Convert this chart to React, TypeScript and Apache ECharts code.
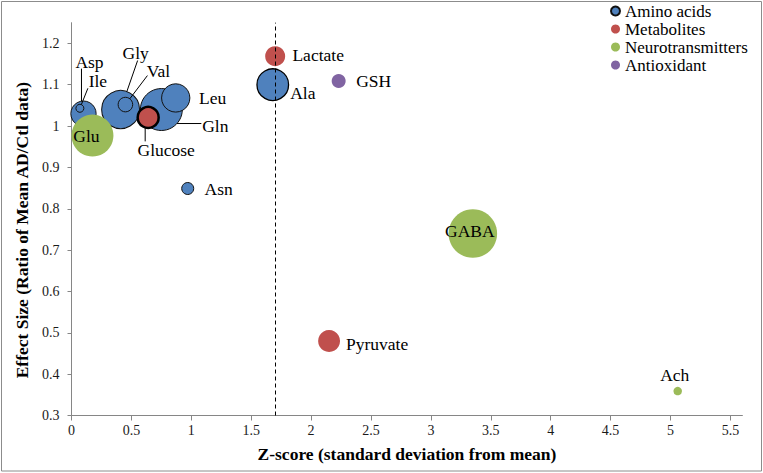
import React, { useEffect, useRef } from 'react';
import * as echarts from 'echarts';

// ---------- data ----------
const seriesNames = ['Amino acids', 'Metabolites', 'Neurotransmitters', 'Antioxidant'];

const aminoNames = ['Asp', 'Ile', 'Gly', 'Val', 'Leu', 'Gln', 'Asn', 'Ala'];
const aminoZ = [0.1, 0.07, 0.41, 0.45, 0.87, 0.75, 0.97, 1.68];
const aminoEffect = [1.03, 1.043, 1.04, 1.052, 1.068, 1.04, 0.849, 1.1];
const aminoSize = [1.6, 0.16, 3.6, 0.53, 2.0, 4.4, 0.36, 2.5];

const metaNames = ['Lactate', 'Glucose', 'Pyruvate'];
const metaZ = [1.7, 0.64, 2.15];
const metaEffect = [1.169, 1.021, 0.48];
const metaSize = [1.0, 1.1, 1.2];

const neuroNames = ['Glu', 'GABA', 'Ach'];
const neuroZ = [0.175, 3.35, 5.06];
const neuroEffect = [0.977, 0.74, 0.359];
const neuroSize = [4.4, 5.9, 0.18];

const antiNames = ['GSH'];
const antiZ = [2.23];
const antiEffect = [1.109];
const antiSize = [0.49];

const zThreshold = 1.7;

const xMin = 0;
const xMax = 5.6;
const xStep = 0.5;
const yMin = 0.3;
const yMax = 1.25;
const yStep = 0.1;

// ---------- styling ----------
const FONT = "'Liberation Serif', 'Times New Roman', serif";
const colors = ['#4f81bd', '#c0504d', '#9bbb59', '#8064a2'];

type Lead = { ax: number; ay: number; mode: 'nearest' | 'vertical' | 'horizontal' };
type Place = { dx: number; dy: number; lead?: Lead };
const labelPlacement: Record<string, Place> = {
  Asp: { dx: 6, dy: -52, lead: { ax: -8, ay: 7, mode: 'vertical' } },
  Ile: { dx: 18, dy: -27, lead: { ax: -10, ay: 7, mode: 'nearest' } },
  Gly: { dx: 15, dy: -57, lead: { ax: 2, ay: 8, mode: 'nearest' } },
  Val: { dx: 33, dy: -34, lead: { ax: -11, ay: 5, mode: 'nearest' } },
  Leu: { dx: 37, dy: 0 },
  Gln: { dx: 54, dy: 16, lead: { ax: -14, ay: -2, mode: 'horizontal' } },
  Asn: { dx: 31, dy: 0 },
  Ala: { dx: 30, dy: 8 },
  Lactate: { dx: 43, dy: -1 },
  Glucose: { dx: 18, dy: 33, lead: { ax: -21, ay: -9, mode: 'vertical' } },
  Pyruvate: { dx: 48, dy: 3 },
  Glu: { dx: -6, dy: 0 },
  GABA: { dx: -3, dy: -3 },
  Ach: { dx: -3, dy: -16 },
  GSH: { dx: 35, dy: 0 },
};

const radiusOf = (size: number) => 10 * Math.sqrt(size);

function buildData(names: string[], xs: number[], ys: number[], sizes: number[]) {
  const items = names.map((n, i) => {
    const p = labelPlacement[n] || { dx: 0, dy: 0 };
    const item: any = {
      name: n,
      value: [xs[i], ys[i], sizes[i]],
      label: { offset: [p.dx, p.dy] },
    };
    if (n === 'Glucose') {
      item.itemStyle = { borderColor: '#000', borderWidth: 2.5 };
    }
    if (n === 'Ala') {
      item.itemStyle = { borderColor: '#000', borderWidth: 1.3 };
    }
    return item;
  });
  // larger bubbles drawn first so smaller ones stay visible
  return items.sort((a, b) => b.value[2] - a.value[2]);
}

export default function App() {
  const ref = useRef<HTMLDivElement>(null);
  useEffect(() => {
    if (!ref.current) return;
    const chart = echarts.init(ref.current, undefined, { renderer: 'svg' });

    const groups = [
      buildData(aminoNames, aminoZ, aminoEffect, aminoSize),
      buildData(metaNames, metaZ, metaEffect, metaSize),
      buildData(neuroNames, neuroZ, neuroEffect, neuroSize),
      buildData(antiNames, antiZ, antiEffect, antiSize),
    ];

    const series: any[] = groups.map((data, gi) => ({
      type: 'scatter',
      name: seriesNames[gi],
      data,
      symbol: 'circle',
      symbolSize: (v: number[]) => 2 * radiusOf(v[2]),
      itemStyle:
        gi === 0
          ? { color: colors[gi], borderColor: '#111', borderWidth: 1, opacity: 1 }
          : { color: colors[gi], opacity: 1 },
      label: {
        show: true,
        position: 'inside',
        formatter: '{b}',
        color: '#000',
        fontFamily: FONT,
        fontSize: 17.5,
      },
      emphasis: { disabled: true },
      markLine:
        gi === 3
          ? {
              silent: true,
              symbol: ['none', 'none'],
              label: { show: false },
              lineStyle: { type: [4, 3], color: '#000', width: 1 },
              data: [{ xAxis: zThreshold }],
            }
          : undefined,
    }));

    chart.setOption({
      animation: false,
      textStyle: { fontFamily: FONT },
      grid: { left: 71.5, top: 22.7, right: 20.6, bottom: 57.5, containLabel: false },
      legend: {
        orient: 'vertical',
        left: 605,
        top: -3,
        itemWidth: 9,
        itemHeight: 9,
        itemGap: 0,
        icon: 'circle',
        data: seriesNames,
        textStyle: { fontFamily: FONT, fontSize: 17, lineHeight: 18, color: '#000' },
      },
      xAxis: {
        type: 'value',
        min: xMin,
        max: xMax,
        interval: xStep,
        name: 'Z-score (standard deviation from mean)',
        nameLocation: 'middle',
        nameGap: 29,
        nameTextStyle: { fontFamily: FONT, fontSize: 17.5, fontWeight: 'bold', color: '#000' },
        axisLine: { show: true, onZero: false, lineStyle: { color: '#868686' } },
        axisTick: { show: true, length: 5, lineStyle: { color: '#868686' } },
        axisLabel: { margin: 8, color: '#1a1a1a', fontFamily: FONT, fontSize: 14, showMaxLabel: false },
        splitLine: { show: false },
      },
      yAxis: {
        type: 'value',
        min: yMin,
        max: yMax,
        interval: yStep,
        name: 'Effect Size (Ratio of Mean AD/Ctl data)',
        nameLocation: 'middle',
        nameGap: 35,
        nameTextStyle: {
          fontFamily: FONT,
          fontSize: 17.5,
          fontWeight: 'bold',
          color: '#000',
          padding: [0, 22, 0, 0],
        },
        axisLine: { show: true, onZero: false, lineStyle: { color: '#868686' } },
        axisTick: { show: true, length: 4, lineStyle: { color: '#868686' } },
        axisLabel: { margin: 12, color: '#1a1a1a', fontFamily: FONT, fontSize: 14, showMaxLabel: false },
        splitLine: { show: false },
      },
      graphic: [
        {
          id: 'frame',
          type: 'rect',
          silent: true,
          z: 100,
          shape: { x: 1.5, y: 1.5, width: 760, height: 469.5 },
          style: { fill: 'none', stroke: '#8c8c8c', lineWidth: 1 },
        },
      ],
      series,
    });

    // leader lines computed from the data through the chart's own scales
    const leaders: any[] = [];
    groups.forEach((data) => {
      data.forEach((item: any) => {
        const p = labelPlacement[item.name];
        if (!p || !p.lead) return;
        const [x, y, s] = item.value;
        const pt = chart.convertToPixel({ xAxisIndex: 0, yAxisIndex: 0 }, [x, y]) as number[];
        const cx = pt[0];
        const cy = pt[1];
        const r = radiusOf(s);
        const lx = cx + p.dx + p.lead.ax;
        const ly = cy + p.dy + p.lead.ay;
        let ex = cx;
        let ey = cy;
        if (p.lead.mode === 'vertical') {
          ex = lx;
          ey = cy + Math.sign(ly - cy) * Math.sqrt(Math.max(r * r - (lx - cx) * (lx - cx), 0));
        } else if (p.lead.mode === 'horizontal') {
          ey = ly;
          ex = cx + Math.sign(lx - cx) * Math.sqrt(Math.max(r * r - (ly - cy) * (ly - cy), 0));
        } else {
          const d = Math.hypot(lx - cx, ly - cy) || 1;
          ex = cx + ((lx - cx) / d) * r;
          ey = cy + ((ly - cy) / d) * r;
        }
        leaders.push({
          id: 'lead-' + item.name,
          type: 'line',
          silent: true,
          z: 50,
          shape: { x1: lx, y1: ly, x2: ex, y2: ey },
          style: { stroke: '#000', lineWidth: 1 },
        });
      });
    });
    chart.setOption({ graphic: leaders });

    return () => chart.dispose();
  }, []);

  return (
    <div
      ref={ref}
      style={{ position: 'fixed', left: 0, top: 0, width: 763, height: 473, background: '#fff' }}
    />
  );
}
